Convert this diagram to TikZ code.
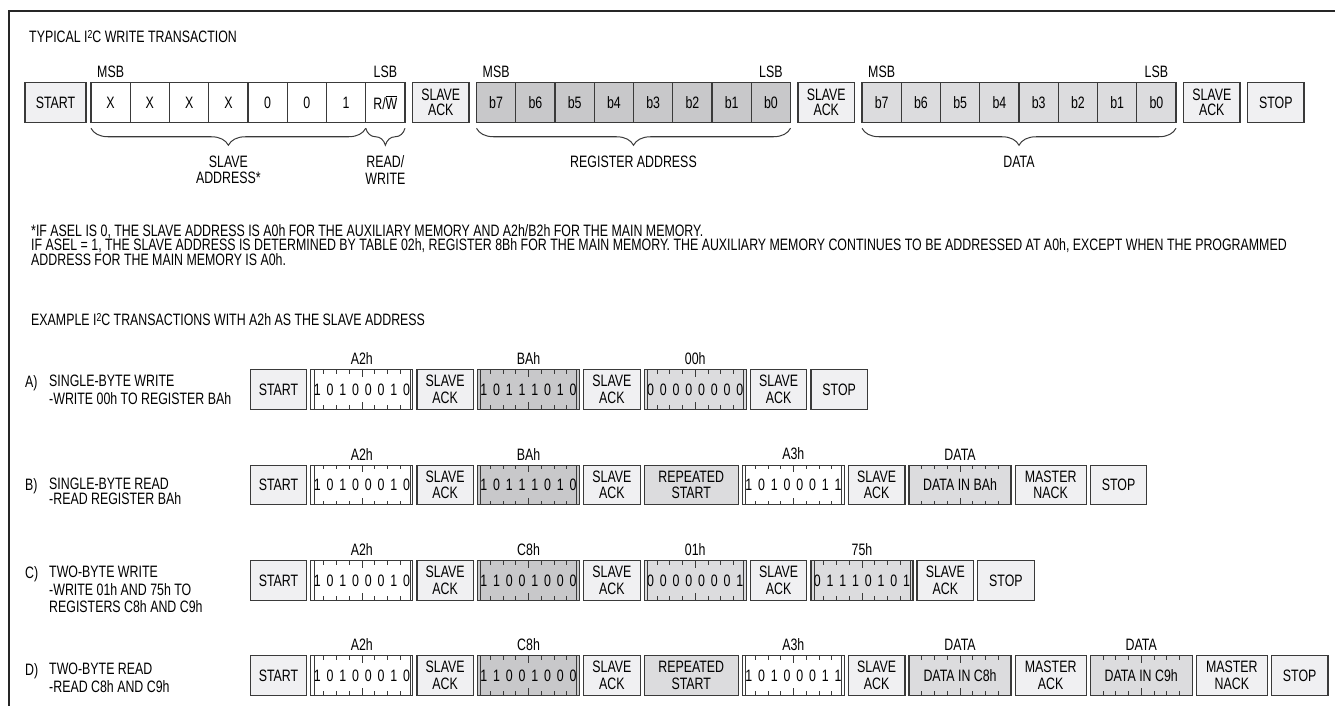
\documentclass[tikz,border=0pt]{standalone}
\usepackage{fontspec}
\setmainfont[FakeStretch=0.75]{Liberation Sans}
\usepackage{xcolor}
\usetikzlibrary{positioning, calc, decorations.pathreplacing}

\definecolor{ctlgray}{HTML}{F0F0F2}
\definecolor{reggray}{HTML}{C8C8CA}
\definecolor{datgray}{HTML}{DCDCDE}
\definecolor{inkgray}{HTML}{3A3A3A}

\newcommand{\diagfont}{\fontsize{16.5pt}{16.5pt}\selectfont}
\newcommand{\itwoc}{I\raisebox{4pt}{\fontsize{11.5pt}{11.5pt}\selectfont 2}C}
% one digit per bit cell
\newcommand{\bitstr}[8]{\makebox[12.75pt]{#1}\makebox[12.75pt]{#2}%
  \makebox[12.75pt]{#3}\makebox[12.75pt]{#4}\makebox[12.75pt]{#5}%
  \makebox[12.75pt]{#6}\makebox[12.75pt]{#7}\makebox[12.75pt]{#8}}
% bit ticks on top and bottom of a byte box
\newcommand{\byteticks}{%
  \foreach \k in {1,...,7}{%
    \pgfmathsetmacro{\tk}{\k==4 ? 7 : 4}%
    \draw[inkgray, line width=0.7pt]
      ($(path picture bounding box.north west)!\k/8!(path picture bounding box.north east)$) -- ++(0pt,-\tk pt)
      ($(path picture bounding box.south west)!\k/8!(path picture bounding box.south east)$) -- ++(0pt,\tk pt);
  }}
\newcommand{\edgelines}{%
  \draw[inkgray, line width=0.7pt]
    ([xshift=3pt]path picture bounding box.north west) -- ([xshift=3pt]path picture bounding box.south west)
    ([xshift=-3pt]path picture bounding box.north east) -- ([xshift=-3pt]path picture bounding box.south east);}

\begin{document}
\begin{tikzpicture}[
  x=1pt, y=-1pt,
  node distance=4.1pt,
  box/.style={draw=inkgray, line width=1.2pt, minimum height=39.5pt,
              inner sep=0pt, outer sep=0pt, align=center, font=\diagfont, text=black},
  ctl/.style={box, fill=ctlgray, minimum width=56.5pt},
  cell/.style={box, minimum width=39.25pt},
  byte/.style={box, minimum width=102pt, path picture={\byteticks}},
  bits/.style={box, minimum width=102pt, path picture={\byteticks\edgelines}},
  txt/.style={inner sep=0pt, font=\diagfont, text=black},
  rowtxt/.style={txt, anchor=north west, align=left,
                 font=\fontsize{16.5pt}{17.5pt}\selectfont},
  brc/.style={decorate, decoration={brace, mirror, amplitude=17pt},
              draw=inkgray, line width=1pt},
  brclbl/.style={txt, align=center, below=27pt},
]
\useasboundingbox (0,0) rectangle (1335,706);
\draw[line width=2pt, black!85] (1335,11) -- (9,11) -- (9,706);

% Typical write transaction
\node[txt, anchor=base west] (title) at (29,43) {TYPICAL \itwoc{} WRITE TRANSACTION};

\node[ctl, minimum width=61pt] (st) at (55.5,102.5) {START};
\node[cell, right=5pt of st] (ad1) {X};
\foreach \t [count=\i from 2, remember=\i as \j (initially 1)] in {X,X,X,0,0,1,R/$\overline{\mbox{W}}$}
  \node[cell, right=0pt of ad\j] (ad\i) {\t};
\node[ctl, right=7.5pt of ad8] (ack1) {SLAVE\\[-1.5pt]ACK};
\node[cell, fill=reggray, right=7.5pt of ack1] (rg1) {b7};
\foreach \t [count=\i from 2, remember=\i as \j (initially 1)] in {b6,b5,b4,b3,b2,b1,b0}
  \node[cell, fill=reggray, right=0pt of rg\j] (rg\i) {\t};
\node[ctl, right=7.5pt of rg8] (ack2) {SLAVE\\[-1.5pt]ACK};
\node[cell, fill=datgray, right=7.5pt of ack2] (dt1) {b7};
\foreach \t [count=\i from 2, remember=\i as \j (initially 1)] in {b6,b5,b4,b3,b2,b1,b0}
  \node[cell, fill=datgray, right=0pt of dt\j] (dt\i) {\t};
\node[ctl, right=7.5pt of dt8] (ack3) {SLAVE\\[-1.5pt]ACK};
\node[ctl, right=7.5pt of ack3] (stop) {STOP};

\foreach \n in {ad,rg,dt}{
  \node[txt, above=5pt of \n1] (msb-\n) {MSB};
  \node[txt, above=5pt of \n8] (lsb-\n) {LSB};
}

\draw[brc] ([yshift=-6pt]ad1.south west) -- node[brclbl] (lbl-sa) {SLAVE\\ADDRESS*} ([yshift=-6pt]ad7.south east);
\draw[brc] ([yshift=-6pt]ad8.south west) -- node[brclbl] (lbl-rw) {READ/\\WRITE} ([yshift=-6pt]ad8.south east);
\draw[brc] ([yshift=-6pt]rg1.south west) -- node[brclbl] (lbl-ra) {REGISTER ADDRESS} ([yshift=-6pt]rg8.south east);
\draw[brc] ([yshift=-6pt]dt1.south west) -- node[brclbl] (lbl-dt) {DATA} ([yshift=-6pt]dt8.south east);

% Footnote
\node[txt, anchor=north west, align=left, font=\fontsize{16.5pt}{14.75pt}\selectfont] (note) at (31,224)
  {*IF ASEL IS 0, THE SLAVE ADDRESS IS A0h FOR THE AUXILIARY MEMORY AND A2h/B2h FOR THE MAIN MEMORY.\\
   IF ASEL = 1, THE SLAVE ADDRESS IS DETERMINED BY TABLE 02h, REGISTER 8Bh FOR THE MAIN MEMORY. THE AUXILIARY MEMORY CONTINUES TO BE ADDRESSED AT A0h, EXCEPT WHEN THE PROGRAMMED\\
   ADDRESS FOR THE MAIN MEMORY IS A0h.};

% Examples
\node[txt, anchor=base west] (exhead) at (31,325) {EXAMPLE \itwoc{} TRANSACTIONS WITH A2h AS THE SLAVE ADDRESS};

% A) single-byte write
\node[txt, anchor=north west] (lab-a) at (25,375) {A)};
\node[rowtxt] (txt-a) at (49,375) {SINGLE-BYTE WRITE\\-WRITE 00h TO REGISTER BAh};
\node[ctl] (a0) at (278.5,389.5) {START};
\node[bits, fill=white, right=of a0] (a1) {\bitstr10100010};
\node[ctl, right=of a1] (a2) {SLAVE\\ACK};
\node[bits, fill=reggray, right=of a2] (a3) {\bitstr10111010};
\node[ctl, right=of a3] (a4) {SLAVE\\ACK};
\node[bits, fill=datgray, right=of a4] (a5) {\bitstr00000000};
\node[ctl, right=of a5] (a6) {SLAVE\\ACK};
\node[ctl, right=of a6] (a7) {STOP};
\node[txt, above=5pt of a1] (a1h) {A2h};
\node[txt, above=5pt of a3] (a3h) {BAh};
\node[txt, above=5pt of a5] (a5h) {00h};

% B) single-byte read
\node[txt, anchor=north west] (lab-b) at (25,478) {B)};
\node[rowtxt, font=\fontsize{16.5pt}{15pt}\selectfont] (txt-b) at (49,478) {SINGLE-BYTE READ\\-READ REGISTER BAh};
\node[ctl] (b0) at (278.5,485) {START};
\node[bits, fill=white, right=of b0] (b1) {\bitstr10100010};
\node[ctl, right=of b1] (b2) {SLAVE\\ACK};
\node[bits, fill=reggray, right=of b2] (b3) {\bitstr10111010};
\node[ctl, right=of b3] (b4) {SLAVE\\ACK};
\node[ctl, fill=datgray, minimum width=94pt, right=of b4] (b5) {REPEATED\\START};
\node[bits, fill=white, right=of b5] (b6) {\bitstr10100011};
\node[ctl, right=of b6] (b7) {SLAVE\\ACK};
\node[byte, fill=datgray, right=of b7] (b8) {DATA IN BAh};
\node[ctl, minimum width=71pt, right=of b8] (b9) {MASTER\\NACK};
\node[ctl, right=of b9] (b10) {STOP};
\node[txt, above=5pt of b1] (b1h) {A2h};
\node[txt, above=5pt of b3] (b3h) {BAh};
\node[txt, above=5pt of b6] (b6h) {A3h};
\node[txt, above=5pt of b8] (b8h) {DATA};

% C) two-byte write
\node[txt, anchor=north west] (lab-c) at (25,566) {C)};
\node[rowtxt] (txt-c) at (49,566) {TWO-BYTE WRITE\\-WRITE 01h AND 75h TO\\REGISTERS C8h AND C9h};
\node[ctl] (c0) at (278.5,580.5) {START};
\node[bits, fill=white, right=of c0] (c1) {\bitstr10100010};
\node[ctl, right=of c1] (c2) {SLAVE\\ACK};
\node[bits, fill=reggray, right=of c2] (c3) {\bitstr11001000};
\node[ctl, right=of c3] (c4) {SLAVE\\ACK};
\node[bits, fill=datgray, right=of c4] (c5) {\bitstr00000001};
\node[ctl, right=of c5] (c6) {SLAVE\\ACK};
\node[bits, fill=datgray, right=of c6] (c7) {\bitstr01110101};
\node[ctl, right=of c7] (c8) {SLAVE\\ACK};
\node[ctl, right=of c8] (c9) {STOP};
\node[txt, above=5pt of c1] (c1h) {A2h};
\node[txt, above=5pt of c3] (c3h) {C8h};
\node[txt, above=5pt of c5] (c5h) {01h};
\node[txt, above=5pt of c7] (c7h) {75h};

% D) two-byte read
\node[txt, anchor=north west] (lab-d) at (25,663) {D)};
\node[rowtxt] (txt-d) at (49,663) {TWO-BYTE READ\\-READ C8h AND C9h};
\node[ctl] (d0) at (278.5,675.5) {START};
\node[bits, fill=white, right=of d0] (d1) {\bitstr10100010};
\node[ctl, right=of d1] (d2) {SLAVE\\ACK};
\node[bits, fill=reggray, right=of d2] (d3) {\bitstr11001000};
\node[ctl, right=of d3] (d4) {SLAVE\\ACK};
\node[ctl, fill=datgray, minimum width=94pt, right=of d4] (d5) {REPEATED\\START};
\node[bits, fill=white, right=of d5] (d6) {\bitstr10100011};
\node[ctl, right=of d6] (d7) {SLAVE\\ACK};
\node[byte, fill=datgray, right=of d7] (d8) {DATA IN C8h};
\node[ctl, minimum width=71pt, right=of d8] (d9) {MASTER\\ACK};
\node[byte, fill=datgray, right=of d9] (d10) {DATA IN C9h};
\node[ctl, minimum width=71pt, right=of d10] (d11) {MASTER\\NACK};
\node[ctl, right=of d11] (d12) {STOP};
\node[txt, above=5pt of d1] (d1h) {A2h};
\node[txt, above=5pt of d3] (d3h) {C8h};
\node[txt, above=5pt of d6] (d6h) {A3h};
\node[txt, above=5pt of d8] (d8h) {DATA};
\node[txt, above=5pt of d10] (d10h) {DATA};
\end{tikzpicture}
\end{document}
